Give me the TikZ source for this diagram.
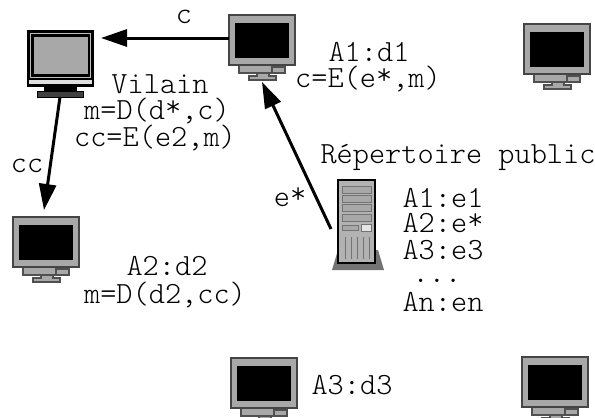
\documentclass[tikz,border=0pt]{standalone}
\usetikzlibrary{arrows.meta}
\definecolor{mgray}{gray}{0.66}
\definecolor{bgray}{gray}{0.45}
\newcommand{\upstar}{\raisebox{3pt}{*}}
\tikzset{
  x=1pt,y=-1pt,
  lbl/.style={font=\fontsize{30.8}{30.8}\selectfont\fontseries{l}\ttfamily,inner sep=0pt,text=black,anchor=center},
  conn/.style={line width=3pt,-{Triangle[length=26pt,width=17pt]},black},
  mon/.pic={
    \draw[fill=mgray,draw=bgray!70!black,line width=1.3pt] (10,50) rectangle (56,58);
    \draw[fill=mgray,draw=bgray!70!black,line width=1.2pt] (43,52) rectangle (56,58);
    \draw[fill=mgray,draw=bgray!70!black,line width=1.2pt] (20,65) -- (20,61) -- (28,61) -- (28,58) -- (40,58) -- (40,61) -- (47,61) -- (47,65) -- cycle;
    \draw[fill=mgray,draw=bgray!60!black,line width=1.6pt] (0,0) rectangle (66,50);
    \fill[black] (6,8) rectangle (60,43);
  },
  vil/.pic={
    \fill[black] (17,56) rectangle (50,62);
    \fill[black!75,draw=black,line width=1pt] (10,61.5) rectangle (56,67);
    \fill[black] (0,0) rectangle (67,57);
    \fill[gray!25] (2,49.5) rectangle (65,53.5);
    \draw[white!75!black,line width=1pt] (3.5,3.5) rectangle (63.5,47);
    \fill[black] (4.5,4.5) rectangle (62.5,46);
    \fill[mgray] (6.5,6.5) rectangle (60.5,47.5-3.5);
  },
  srv/.pic={
    \fill[bgray] (6,70) -- (0,90) -- (52,90) -- (46,70) -- cycle;
    \draw[fill=gray!60,draw=black,line width=1.5pt] (6,0) rectangle (43,83);
    \foreach \y in {6,15,24,34} \draw[fill=mgray,draw=bgray,line width=.7pt] (10,\y) rectangle (39,\y+7);
    \draw[fill=mgray,draw=bgray,line width=.7pt] (10,45) rectangle (26,50);
    \draw[fill=gray!20,draw=bgray,line width=.7pt] (29,44) rectangle (39,51);
    \foreach \x in {13,19,25,31,37} \draw[bgray,line width=1pt] (\x,57) -- (\x,79);
  }
}
\begin{document}
\begin{tikzpicture}
\useasboundingbox (0,0) rectangle (595,418);
\clip (0,0) rectangle (595,418);
\pic at (229,15) {mon};
\pic at (524,24) {mon};
\pic at (13,217) {mon};
\pic at (231,358) {mon};
\pic at (522,357) {mon};
\pic at (27,30) {vil};
\pic at (332,180) {srv};
\node[inner sep=0pt,minimum width=66pt,minimum height=66pt] (a1) at (262,48) {};
\node[inner sep=0pt,minimum width=74pt,minimum height=67pt] (vilain) at (64,63.5) {};
\node[inner sep=0pt,minimum width=66pt,minimum height=65pt] (a2) at (46,250) {};
\node[inner sep=0pt,minimum width=52pt,minimum height=90pt] (srvnode) at (358,225) {};
\coordinate (cstart) at (a1.west |- 0,38);
\coordinate (cend) at (101,38);
\coordinate (estart) at (331,229);
\coordinate (eend) at (262,82);
\coordinate (ccstart) at (60,97);
\coordinate (ccend) at (44,210);
\draw[conn] (cstart) -- (cend);
\draw[conn] (estart) -- (eend);
\draw[conn] (ccstart) -- (ccend);
\node[lbl] (tc) at (184,17) {c};
\node[lbl] (t1) at (369,52) {A1:d1};
\node[lbl] (t2) at (368,79) {c=E(e\upstar,m)};
\node[lbl] (t3) at (160,84) {Vilain};
\node[lbl] (t4) at (157,111) {m=D(d\upstar,c)};
\node[lbl] (t5) at (155,138) {cc=E(e2,m)};
\node[lbl] (t6) at (27,166) {cc};
\node[lbl] (t7) at (290,197) {e\upstar};
\node[lbl] (t8) at (458,157) {Répertoire public};
\node[lbl] (t9) at (443,198) {A1:e1};
\node[lbl] (t10) at (443,223) {A2:e\upstar};
\node[lbl] (t11) at (443,250) {A3:e3};
\node[lbl] (t12) at (437,281) {...};
\node[lbl] (t13) at (443,302) {An:en};
\node[lbl] (t14) at (167,266) {A2:d2};
\node[lbl] (t15) at (165,295) {m=D(d2,cc)};
\node[lbl] (t16) at (352,385) {A3:d3};
\end{tikzpicture}
\end{document}
